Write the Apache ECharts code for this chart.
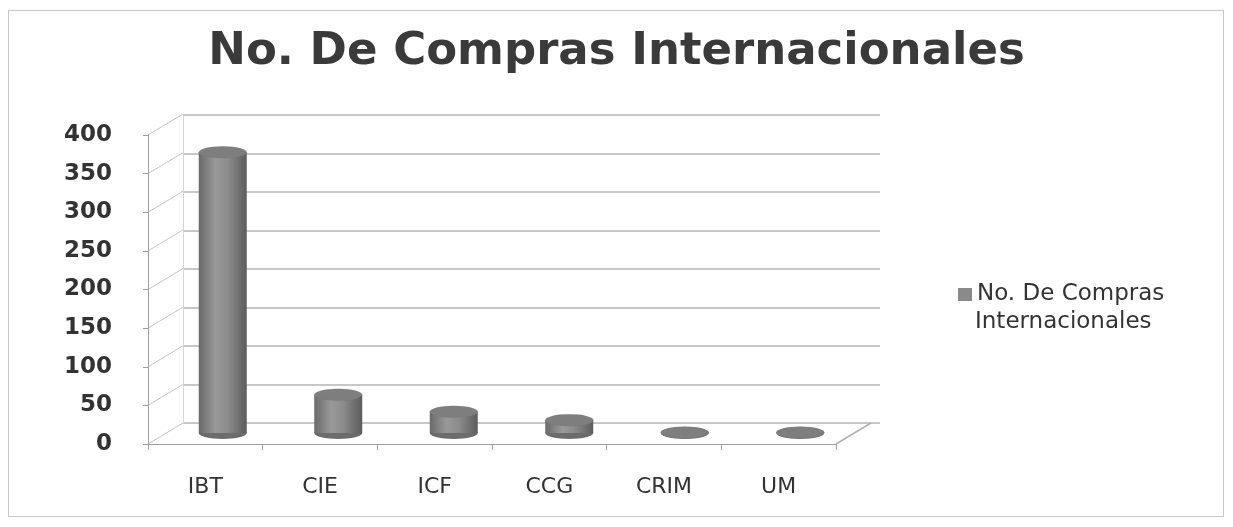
<!DOCTYPE html>
<html>
<head>
<meta charset="utf-8">
<script src="https://cdn.jsdelivr.net/npm/echarts@6/dist/echarts.min.js"></script>
<style>
html,body{margin:0;padding:0;background:#fff;}
#wrap{position:absolute;left:0;top:0;width:1233px;height:527px;}
#frame{position:absolute;left:8px;top:10px;width:1216px;height:507px;border:1px solid #c8c8c8;box-sizing:border-box;}
#chart{position:absolute;left:0;top:0;width:1233px;height:527px;}
</style>
</head>
<body>
<div id="wrap"><div id="frame"></div><div id="chart"></div></div>
<script>
const categories = ['IBT', 'CIE', 'ICF', 'CCG', 'CRIM', 'UM'];
const seriesName = 'No. De Compras Internacionales';
const values = [365, 50, 28, 17, 1, 1];
const yTicks = [0, 50, 100, 150, 200, 250, 300, 350, 400];

const chart = echarts.init(document.getElementById('chart'));
const barGrad = new echarts.graphic.LinearGradient(0, 0, 1, 0, [
  { offset: 0, color: '#6a6a6a' },
  { offset: 0.35, color: '#999999' },
  { offset: 0.6, color: '#8c8c8c' },
  { offset: 1, color: '#5c5c5c' }
]);
const font = '"DejaVu Sans", Verdana, sans-serif';
const DEPTH = [35, -21]; // 3D depth offset between front axes and back wall

const yMin = yTicks[0], yMax = yTicks[yTicks.length - 1], yInt = yTicks[1] - yTicks[0];

chart.setOption({
  animation: false,
  title: {
    text: 'No. De Compras Internacionales',
    left: 'center', top: 25,
    textStyle: { fontFamily: font, fontWeight: 'bold', fontSize: 45, color: '#3a3a3a' }
  },
  legend: {
    orient: 'vertical', left: 953, top: 278,
    itemWidth: 14, itemHeight: 13, icon: 'rect', itemGap: 4,
    data: [{ name: seriesName, itemStyle: { color: '#8a8a8a' } }],
    formatter: () => 'No. De Compras',
    textStyle: { fontFamily: font, fontSize: 23, color: '#333' }
  },
  graphic: [{
    type: 'text', left: 975, top: 311,
    style: { text: 'Internacionales', font: '23px ' + font, fill: '#333' }
  }],
  grid: [
    { left: 148, right: 397, top: 135, bottom: 83 },   // front axes
    { left: 183, right: 353, top: 115, bottom: 104 },  // back wall
    { left: 165, right: 375, top: 125, bottom: 94 }    // bars at mid depth
  ],
  xAxis: [
    { gridIndex: 0, type: 'category', data: categories,
      axisLine: { lineStyle: { color: '#a0a0a0' } },
      axisTick: { show: true, length: 6, lineStyle: { color: '#a0a0a0' } },
      axisLabel: { margin: 32, fontFamily: font, fontSize: 22, color: '#333' } },
    { gridIndex: 1, type: 'category', data: categories, show: false },
    { gridIndex: 2, type: 'category', data: categories, show: false }
  ],
  yAxis: [
    { gridIndex: 0, type: 'value', min: yMin, max: yMax, interval: yInt,
      axisLine: { show: true, lineStyle: { color: '#a0a0a0' } },
      axisTick: { show: true, length: 5, lineStyle: { color: '#a0a0a0' } },
      splitLine: { show: false },
      axisLabel: { margin: 36, fontFamily: font, fontSize: 23, fontWeight: 'bold', color: '#333' } },
    { gridIndex: 1, type: 'value', min: yMin, max: yMax, interval: yInt,
      axisLine: { show: true, lineStyle: { color: '#d6d6d6' } }, axisTick: { show: false }, axisLabel: { show: false },
      splitLine: { show: true, lineStyle: { color: '#b4b4b4', width: 1.5 } } },
    { gridIndex: 2, type: 'value', min: yMin, max: yMax, interval: yInt,
      show: false, splitLine: { show: false } }
  ],
  series: [
    { name: 'walls', type: 'custom', xAxisIndex: 0, yAxisIndex: 0, silent: true,
      data: yTicks.map(v => [0, v]), z: 0,
      renderItem: function (params, api) {
        const cs = params.coordSys;
        const y = api.coord([0, api.value(1)])[1];
        const children = [{
          type: 'line',
          shape: { x1: cs.x, y1: y, x2: cs.x + DEPTH[0], y2: y + DEPTH[1] },
          style: { stroke: '#c4c4c4', lineWidth: 1 }
        }];
        if (params.dataIndex === 0) {
          children.push({
            type: 'line',
            shape: { x1: cs.x + cs.width, y1: y, x2: cs.x + cs.width + DEPTH[0], y2: y + DEPTH[1] },
            style: { stroke: '#b0b0b0', lineWidth: 1.5 }
          });
        }
        return { type: 'group', children: children };
      }
    },
    { name: seriesName, type: 'bar', xAxisIndex: 2, yAxisIndex: 2, data: values,
      barWidth: 48, itemStyle: { color: barGrad }, z: 2 },
    { name: 'base', type: 'pictorialBar', xAxisIndex: 2, yAxisIndex: 2, data: values,
      symbol: 'circle', symbolSize: [48, 12], symbolPosition: 'start', symbolOffset: [0, '50%'],
      itemStyle: { color: '#6c6c6c' }, z: 1, silent: true },
    { name: 'top', type: 'pictorialBar', xAxisIndex: 2, yAxisIndex: 2, data: values,
      symbol: 'circle', symbolSize: [48, 12], symbolPosition: 'end', symbolOffset: [0, '-50%'],
      itemStyle: { color: '#7e7e7e', borderColor: '#5e5e5e', borderWidth: 1 }, z: 3, silent: true }
  ]
});
</script>
</body>
</html>
